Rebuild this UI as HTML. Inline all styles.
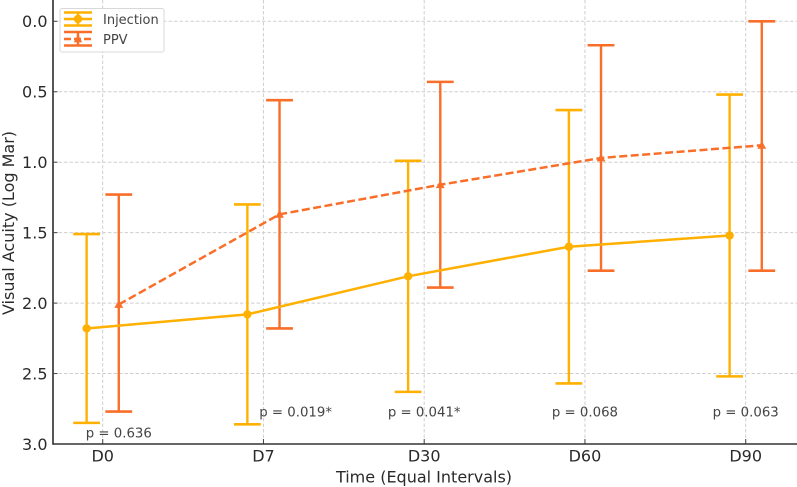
<!DOCTYPE html>
<html>
<head>
<meta charset="utf-8">
<title>Visual Acuity Chart</title>
<style>
html,body{margin:0;padding:0;background:#fff;width:797px;height:487px;overflow:hidden}
svg{display:block;font-family:"DejaVu Sans","Liberation Sans",sans-serif;filter:blur(0.3px)}
</style>
</head>
<body>
<svg id="chart" width="797" height="487" viewBox="0 0 797 487" xmlns="http://www.w3.org/2000/svg">
  <g id="grid"></g>
  <g id="series"></g>
  <g id="axes"></g>
  <g id="pvalues"></g>
  <text x="424" y="482.5" text-anchor="middle" font-size="16" fill="#2a2a2a">Time (Equal Intervals)</text>
  <text transform="translate(14,223) rotate(-90)" text-anchor="middle" font-size="16" fill="#2a2a2a">Visual Acuity (Log Mar)</text>
  <g>
    <rect x="60" y="8.5" width="104" height="43.5" rx="2" fill="#fff" fill-opacity="0.9" stroke="#d8d8d8" stroke-width="1"/>
    <g>
      <line x1="64" x2="92" y1="12.5" y2="12.5" stroke="#FFB000" stroke-width="2.5"/>
      <line x1="64" x2="92" y1="25.5" y2="25.5" stroke="#FFB000" stroke-width="2.5"/>
      <line x1="64" x2="92" y1="19" y2="19" stroke="#FFB000" stroke-width="2.5"/>
      <line x1="78" x2="78" y1="12.5" y2="25.5" stroke="#FFB000" stroke-width="2.5"/>
      <circle cx="78" cy="19" r="4.2" fill="#FFB000"/>
      <text x="103" y="24" font-size="13" fill="#444">Injection</text>
    </g>
    <g>
      <line x1="64" x2="92" y1="32" y2="32" stroke="#F96F2A" stroke-width="2.5"/>
      <line x1="64" x2="92" y1="45.5" y2="45.5" stroke="#F96F2A" stroke-width="2.5"/>
      <line x1="64" x2="92" y1="39" y2="39" stroke="#F96F2A" stroke-width="2.5" stroke-dasharray="7 3"/>
      <line x1="78" x2="78" y1="32" y2="45.5" stroke="#F96F2A" stroke-width="2.5"/>
      <path d="M78 34.6 L82.2 42.2 L73.8 42.2 Z" fill="#F96F2A"/>
      <text x="103" y="44" font-size="13" fill="#444">PPV</text>
    </g>
  </g>
</svg>
<script>
const categories = ["D0", "D7", "D30", "D60", "D90"];
const yTicks = [0, 0.5, 1, 1.5, 2, 2.5, 3];
const injectionMean = [2.18, 2.08, 1.81, 1.60, 1.52];
const injectionTop = [1.51, 1.30, 0.99, 0.63, 0.52];
const injectionBottom = [2.85, 2.86, 2.63, 2.57, 2.52];
const ppvMean = [2.01, 1.37, 1.16, 0.97, 0.88];
const ppvTop = [1.23, 0.56, 0.43, 0.17, 0.0];
const ppvBottom = [2.77, 2.18, 1.89, 1.77, 1.77];
const pLabels = ["p = 0.636", "p = 0.019*", "p = 0.041*", "p = 0.068", "p = 0.063"];
const pLabelCategory = [0.1, 1.2, 2, 3, 4];
const pLabelLevel = [2.92, 2.77, 2.77, 2.77, 2.77];

const NS = "http://www.w3.org/2000/svg";
const INJ = "#FFB000";
const PPV = "#F96F2A";
const seriesOffset = 0.1;
const xScale = function (c) { return 102.7 + c * 160.75; };
const yScale = function (v) { return 21.3 + v * 140.9; };
const left = 53, right = 797, top_ = 0, bottom = 444;

function make(tag, parent, attrs, text) {
  const el = document.createElementNS(NS, tag);
  for (const k in attrs) el.setAttribute(k, attrs[k]);
  if (text !== undefined) el.textContent = text;
  parent.appendChild(el);
  return el;
}

const gridG = document.getElementById("grid");
const axesG = document.getElementById("axes");
const seriesG = document.getElementById("series");
const pG = document.getElementById("pvalues");

yTicks.forEach(function (t) {
  const y = yScale(t);
  const g = make("line", gridG, {x1: left, x2: right, y1: y, y2: y, stroke: "#cfcfcf", "stroke-width": 1, "stroke-dasharray": "3.5 2"});
  
  
  const tick = make("line", axesG, {x1: left, x2: left + 4.5, y1: y, y2: y, stroke: "#444", "stroke-width": 1});
  
  
  const lab = make("text", axesG, {x: 47.5, y: y + 5.8, "text-anchor": "end", "font-size": 16, fill: "#2a2a2a"}, t.toFixed(1));
  
  
});

categories.forEach(function (c, i) {
  const x = xScale(i);
  const g = make("line", gridG, {x1: x, x2: x, y1: top_, y2: bottom, stroke: "#cfcfcf", "stroke-width": 1, "stroke-dasharray": "3.5 2"});
  
  
  const tick = make("line", axesG, {x1: x, x2: x, y1: bottom - 5, y2: bottom, stroke: "#444", "stroke-width": 1});
  
  
  const lab = make("text", axesG, {x: x, y: 461.5, "text-anchor": "middle", "font-size": 16, fill: "#2a2a2a"}, c);
  
  
});

const spineL = make("line", axesG, {x1: left, x2: left, y1: 0, y2: bottom + 0.8, stroke: "#444", "stroke-width": 1.8});


const spineB = make("line", axesG, {x1: left, x2: right, y1: bottom, y2: bottom, stroke: "#333", "stroke-width": 1.6});



function drawErrors(means, tops, bottoms, dx, color, name) {
  means.forEach(function (m, i) {
    const x = xScale(i + dx);
    const bar = make("line", seriesG, {x1: x, x2: x, y1: yScale(tops[i]), y2: yScale(bottoms[i]), stroke: color, "stroke-width": 2.4});
    
    
    const capT = make("line", seriesG, {x1: x - 13.4, x2: x + 13.4, y1: yScale(tops[i]), y2: yScale(tops[i]), stroke: color, "stroke-width": 2.6});
    
    
    const capB = make("line", seriesG, {x1: x - 13.4, x2: x + 13.4, y1: yScale(bottoms[i]), y2: yScale(bottoms[i]), stroke: color, "stroke-width": 2.6});
    
    
  });
}

function pathFor(values, dx) {
  return values.map(function (v, i) {
    return (i ? "L" : "M") + xScale(i + dx).toFixed(2) + " " + yScale(v).toFixed(2);
  }).join(" ");
}

drawErrors(injectionMean, injectionTop, injectionBottom, -seriesOffset, INJ, "injection");
drawErrors(ppvMean, ppvTop, ppvBottom, seriesOffset, PPV, "ppv");

const injLine = make("path", seriesG, {d: pathFor(injectionMean, -seriesOffset), fill: "none", stroke: INJ, "stroke-width": 2.5});


const ppvLine = make("path", seriesG, {d: pathFor(ppvMean, seriesOffset), fill: "none", stroke: PPV, "stroke-width": 2.5, "stroke-dasharray": "8 3.5"});



injectionMean.forEach(function (v, i) {
  const pt = make("circle", seriesG, {cx: xScale(i - seriesOffset), cy: yScale(v), r: 4.2, fill: INJ});
  
  
});
ppvMean.forEach(function (v, i) {
  const x = xScale(i + seriesOffset), y = yScale(v);
  const pt = make("path", seriesG, {d: "M" + x + " " + (y - 4.4) + " L" + (x + 4.4) + " " + (y + 3.4) + " L" + (x - 4.4) + " " + (y + 3.4) + " Z", fill: PPV});
  
  
});

pLabels.forEach(function (t, i) {
  const lab = make("text", pG, {x: xScale(pLabelCategory[i]), y: yScale(pLabelLevel[i]) + 4.8, "text-anchor": "middle", "font-size": 13.3, fill: "#444"}, t);
  
  
});
</script>
</body>
</html>
